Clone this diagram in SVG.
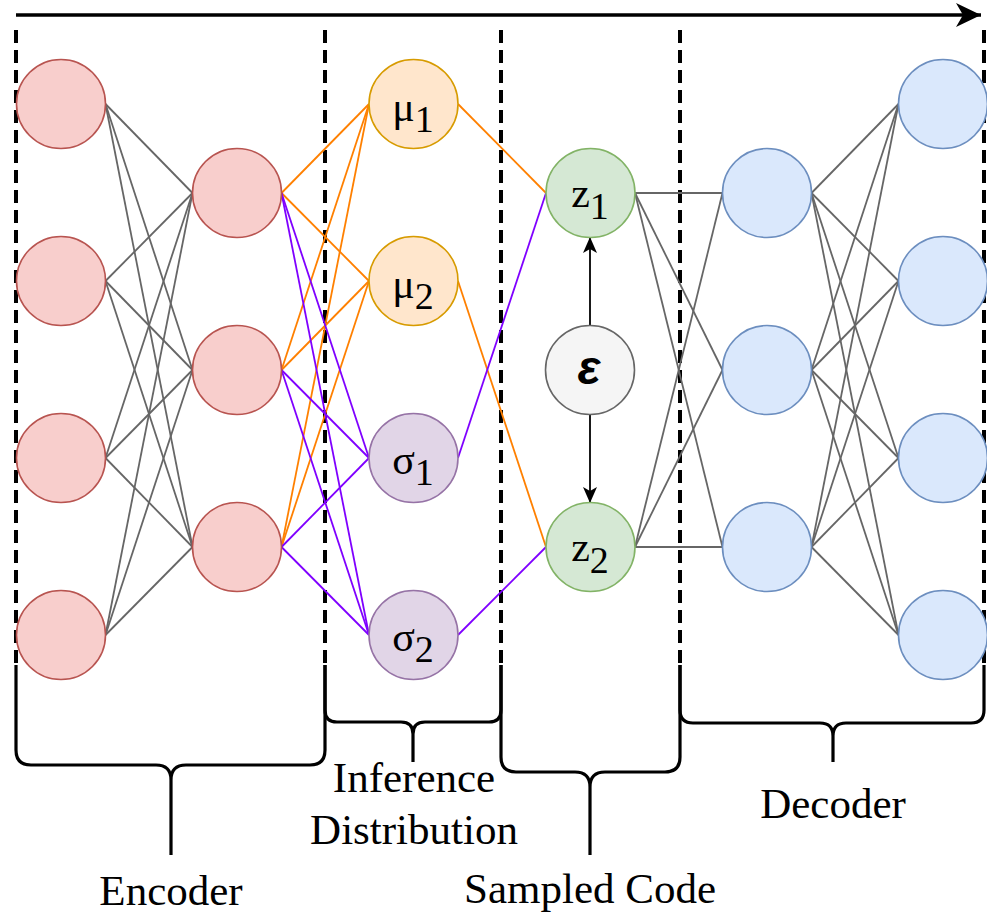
<svg xmlns="http://www.w3.org/2000/svg" width="987" height="915" viewBox="0 0 987 915">
  <style>
    .enc { fill: #f8cecc; stroke: #b85450; stroke-width: 1.6; }
    .mu { fill: #ffe6cc; stroke: #d79b00; stroke-width: 1.6; }
    .sig { fill: #e1d5e7; stroke: #9673a6; stroke-width: 1.6; }
    .z { fill: #d5e8d4; stroke: #82b366; stroke-width: 1.6; }
    .eps { fill: #f5f5f5; stroke: #666666; stroke-width: 1.6; }
    .dec { fill: #dae8fc; stroke: #6c8ebf; stroke-width: 1.6; }
    .gray line { stroke: #666666; stroke-width: 1.8; }
    .orange line { stroke: #ff8000; stroke-width: 1.8; }
    .purple line { stroke: #7f00ff; stroke-width: 1.8; }
    .sep { stroke: #000; stroke-width: 4; stroke-dasharray: 13 7; fill: none; }
    .brace { stroke: #000; stroke-width: 3.2; fill: none; stroke-linejoin: round; }
    .lbl { font-family: "Liberation Serif", "Times New Roman", serif; font-size: 43px; fill: #000; text-anchor: middle; }
    .sym { font-family: "Liberation Serif", "Times New Roman", serif; font-size: 42px; fill: #000; text-anchor: middle; }
    .sub { font-size: 38px; }
  </style>
  <defs>
    <marker id="head" markerWidth="16" markerHeight="14" refX="15" refY="7" orient="auto" markerUnits="userSpaceOnUse">
      <path d="M0,0 L16,7 L0,14 L4,7 Z" fill="#000"/>
    </marker>
    <marker id="bighead" markerWidth="26" markerHeight="24" refX="25" refY="12" orient="auto" markerUnits="userSpaceOnUse">
      <path d="M0,0 L25,12 L0,24 L7,12 Z" fill="#000"/>
    </marker>
  </defs>

  <!-- flow arrow along the top -->
  <line x1="16" y1="15" x2="981" y2="15" stroke="#000" stroke-width="3.5" marker-end="url(#bighead)"/>

  <!-- dashed stage separators -->
  <g id="separators">
    <line class="sep" x1="16" y1="30" x2="16" y2="667"/>
    <line class="sep" x1="325" y1="30" x2="325" y2="667"/>
    <line class="sep" x1="501" y1="30" x2="501" y2="667"/>
    <line class="sep" x1="680" y1="30" x2="680" y2="667"/>
    <line class="sep" x1="984" y1="30" x2="984" y2="667"/>
  </g>

  <!-- curly braces under each stage -->
  <g id="braces">
    <path class="brace" d="M16,665 V750 Q16,765 31,765 H156 Q171,765 171,780 V855 M325,665 V750 Q325,765 310,765 H186 Q171,765 171,780"/>
    <path class="brace" d="M325,665 V710 Q325,722 337,722 H401 Q413,722 413,734 V762 M501,665 V710 Q501,722 489,722 H425 Q413,722 413,734"/>
    <path class="brace" d="M501,665 V757 Q501,772 516,772 H575 Q590,772 590,787 V855 M680,665 V757 Q680,772 665,772 H605 Q590,772 590,787"/>
    <path class="brace" d="M680,665 V710 Q680,723 693,723 H820 Q833,723 833,736 V762 M984,665 V710 Q984,723 971,723 H846 Q833,723 833,736"/>
  </g>

  <!-- connectors -->
  <g id="connectors">
    <g class="gray">
      <!-- encoder layer 1 -> layer 2 -->
      <line x1="105.5" y1="104" x2="192.5" y2="193"/>
      <line x1="105.5" y1="104" x2="192.5" y2="370"/>
      <line x1="105.5" y1="104" x2="192.5" y2="547"/>
      <line x1="105.5" y1="281" x2="192.5" y2="193"/>
      <line x1="105.5" y1="281" x2="192.5" y2="370"/>
      <line x1="105.5" y1="281" x2="192.5" y2="547"/>
      <line x1="105.5" y1="458" x2="192.5" y2="193"/>
      <line x1="105.5" y1="458" x2="192.5" y2="370"/>
      <line x1="105.5" y1="458" x2="192.5" y2="547"/>
      <line x1="105.5" y1="635" x2="192.5" y2="193"/>
      <line x1="105.5" y1="635" x2="192.5" y2="370"/>
      <line x1="105.5" y1="635" x2="192.5" y2="547"/>
      <!-- sampled code -> decoder layer 1 -->
      <line x1="635" y1="193" x2="722.5" y2="193"/>
      <line x1="635" y1="193" x2="722.5" y2="370"/>
      <line x1="635" y1="193" x2="722.5" y2="547"/>
      <line x1="635" y1="547" x2="722.5" y2="193"/>
      <line x1="635" y1="547" x2="722.5" y2="370"/>
      <line x1="635" y1="547" x2="722.5" y2="547"/>
      <!-- decoder layer 1 -> layer 2 -->
      <line x1="811.5" y1="193" x2="898.5" y2="104"/>
      <line x1="811.5" y1="193" x2="898.5" y2="281"/>
      <line x1="811.5" y1="193" x2="898.5" y2="458"/>
      <line x1="811.5" y1="193" x2="898.5" y2="635"/>
      <line x1="811.5" y1="370" x2="898.5" y2="104"/>
      <line x1="811.5" y1="370" x2="898.5" y2="281"/>
      <line x1="811.5" y1="370" x2="898.5" y2="458"/>
      <line x1="811.5" y1="370" x2="898.5" y2="635"/>
      <line x1="811.5" y1="547" x2="898.5" y2="104"/>
      <line x1="811.5" y1="547" x2="898.5" y2="281"/>
      <line x1="811.5" y1="547" x2="898.5" y2="458"/>
      <line x1="811.5" y1="547" x2="898.5" y2="635"/>
    </g>
    <g class="orange">
      <line x1="281.5" y1="193" x2="369" y2="104"/>
      <line x1="281.5" y1="193" x2="369" y2="281"/>
      <line x1="281.5" y1="370" x2="369" y2="104"/>
      <line x1="281.5" y1="370" x2="369" y2="281"/>
      <line x1="281.5" y1="547" x2="369" y2="104"/>
      <line x1="281.5" y1="547" x2="369" y2="281"/>
      <line x1="458" y1="104" x2="546" y2="193"/>
      <line x1="458" y1="281" x2="546" y2="547"/>
    </g>
    <g class="purple">
      <line x1="281.5" y1="193" x2="369" y2="458"/>
      <line x1="281.5" y1="193" x2="369" y2="635"/>
      <line x1="281.5" y1="370" x2="369" y2="458"/>
      <line x1="281.5" y1="370" x2="369" y2="635"/>
      <line x1="281.5" y1="547" x2="369" y2="458"/>
      <line x1="281.5" y1="547" x2="369" y2="635"/>
      <line x1="458" y1="458" x2="546" y2="193"/>
      <line x1="458" y1="635" x2="546" y2="547"/>
    </g>
    <!-- noise feeds both sampled units -->
    <line x1="590" y1="325" x2="590" y2="238" stroke="#000" stroke-width="1.8" marker-end="url(#head)"/>
    <line x1="590" y1="415" x2="590" y2="502" stroke="#000" stroke-width="1.8" marker-end="url(#head)"/>
  </g>

  <!-- encoder -->
  <g id="enc1-1"><circle class="enc" cx="61" cy="104" r="44.5"/></g>
  <g id="enc1-2"><circle class="enc" cx="61" cy="281" r="44.5"/></g>
  <g id="enc1-3"><circle class="enc" cx="61" cy="458" r="44.5"/></g>
  <g id="enc1-4"><circle class="enc" cx="61" cy="635" r="44.5"/></g>
  <g id="enc2-1"><circle class="enc" cx="237" cy="193" r="44.5"/></g>
  <g id="enc2-2"><circle class="enc" cx="237" cy="370" r="44.5"/></g>
  <g id="enc2-3"><circle class="enc" cx="237" cy="547" r="44.5"/></g>

  <!-- inference distribution -->
  <g id="mu1"><circle class="mu" cx="413.5" cy="104" r="44.5"/>
    <text class="sym" x="413" y="121">μ<tspan class="sub" dy="11">1</tspan></text></g>
  <g id="mu2"><circle class="mu" cx="413.5" cy="281" r="44.5"/>
    <text class="sym" x="413" y="298">μ<tspan class="sub" dy="11">2</tspan></text></g>
  <g id="sigma1"><circle class="sig" cx="413.5" cy="458" r="44.5"/>
    <text class="sym" x="413" y="474">σ<tspan class="sub" dy="11">1</tspan></text></g>
  <g id="sigma2"><circle class="sig" cx="413.5" cy="635" r="44.5"/>
    <text class="sym" x="413" y="651">σ<tspan class="sub" dy="11">2</tspan></text></g>

  <!-- sampled code -->
  <g id="z1"><circle class="z" cx="590.5" cy="193" r="44.5"/>
    <text class="sym" x="590" y="207">z<tspan class="sub" dy="12">1</tspan></text></g>
  <g id="z2"><circle class="z" cx="590.5" cy="547" r="44.5"/>
    <text class="sym" x="590" y="561">z<tspan class="sub" dy="12">2</tspan></text></g>
  <g id="epsilon"><circle class="eps" cx="590" cy="370" r="44.5"/>
    <text x="589" y="384" font-family="'Liberation Sans', Arial, sans-serif" font-size="48" font-weight="bold" font-style="italic" text-anchor="middle" fill="#000">ε</text></g>

  <!-- decoder -->
  <g id="dec1-1"><circle class="dec" cx="767" cy="193" r="44.5"/></g>
  <g id="dec1-2"><circle class="dec" cx="767" cy="370" r="44.5"/></g>
  <g id="dec1-3"><circle class="dec" cx="767" cy="547" r="44.5"/></g>
  <g id="dec2-1"><circle class="dec" cx="943" cy="104" r="44.5"/></g>
  <g id="dec2-2"><circle class="dec" cx="943" cy="281" r="44.5"/></g>
  <g id="dec2-3"><circle class="dec" cx="943" cy="458" r="44.5"/></g>
  <g id="dec2-4"><circle class="dec" cx="943" cy="635" r="44.5"/></g>

  <!-- stage labels -->
  <g id="labels">
    <text class="lbl" x="171" y="905">Encoder</text>
    <text class="lbl" x="414" y="792">Inference</text>
    <text class="lbl" x="414" y="844">Distribution</text>
    <text class="lbl" x="590" y="903">Sampled Code</text>
    <text class="lbl" x="833" y="818">Decoder</text>
  </g>
</svg>
